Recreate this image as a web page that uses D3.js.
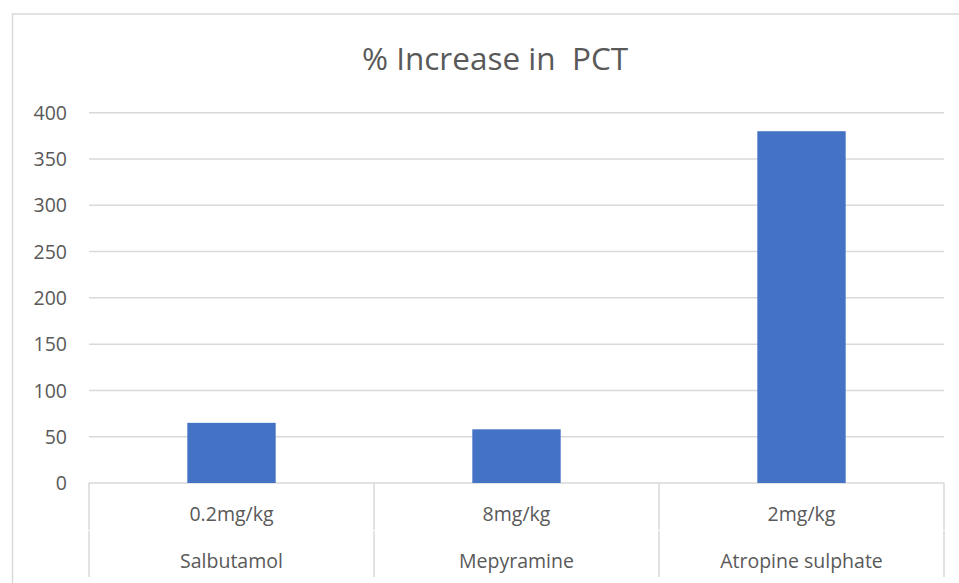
<!DOCTYPE html>
<html>
<head>
<meta charset="utf-8">
<script src="https://cdn.jsdelivr.net/npm/d3@7"></script>
<style>
  html, body { margin: 0; padding: 0; background: #fff; }
  svg { display: block; }
  text { font-family: "Open Sans", "Noto Sans", sans-serif; fill: #595959; }
</style>
</head>
<body>
<svg id="chart" width="959" height="583"></svg>
<script>
// ---- data ----
const drugs = ["Salbutamol", "Mepyramine", "Atropine sulphate"];
const doses = ["0.2mg/kg", "8mg/kg", "2mg/kg"];
const values = [65, 58, 380];
const yTicks = [0, 50, 100, 150, 200, 250, 300, 350, 400];
const title = "% Increase in\u00a0 PCT";

// ---- layout ----
const W = 959, H = 583;
const plot = { left: 89, right: 944, top: 112.7, bottom: 483 };

const svg = d3.select("#chart");

// chart frame (extends past right/bottom edges as in the reference)
svg.append("rect")
  .attr("x", 12.5).attr("y", 14)
  .attr("width", 980).attr("height", 600)
  .attr("fill", "#fff")
  .attr("stroke", "#d9d9d9").attr("stroke-width", 1.5);

const x = d3.scaleBand()
  .domain(drugs)
  .range([plot.left, plot.right])
  .paddingInner(0.69).paddingOuter(0.345);

const xCat = d3.scaleBand().domain(drugs).range([plot.left, plot.right]);

const y = d3.scaleLinear().domain([0, 400]).range([plot.bottom, plot.top]);

// gridlines
svg.append("g")
  .selectAll("line")
  .data(yTicks)
  .join("line")
  .attr("x1", plot.left).attr("x2", plot.right)
  .attr("y1", d => y(d)).attr("y2", d => y(d))
  .attr("stroke", "#d9d9d9").attr("stroke-width", 1.5);

// y axis labels
const yAxis = d3.axisLeft(y).tickValues(yTicks).tickSize(0).tickPadding(0);
const ya = svg.append("g")
  .attr("transform", `translate(67,0)`)
  .call(yAxis);
ya.select(".domain").remove();
ya.selectAll("text")
  .style("font-family", '"Open Sans", sans-serif')
  .attr("font-size", 19.5)
  .attr("fill", "#595959")
  .attr("dy", "0.34em");

// bars
svg.append("g")
  .selectAll("rect")
  .data(values)
  .join("rect")
  .attr("x", (d, i) => x(drugs[i]))
  .attr("width", x.bandwidth())
  .attr("y", d => y(d))
  .attr("height", d => y(0) - y(d))
  .attr("fill", "#4472C4");

// multi-level category axis
const ax = svg.append("g");
const bounds = drugs.map(d => xCat(d)).concat([plot.right]);
ax.selectAll("line.top")
  .data(bounds)
  .join("line")
  .attr("x1", d => d).attr("x2", d => d)
  .attr("y1", plot.bottom).attr("y2", 530)
  .attr("stroke", "#d9d9d9").attr("stroke-width", 1.5);
ax.selectAll("line.bot")
  .data(bounds)
  .join("line")
  .attr("x1", d => d).attr("x2", d => d)
  .attr("y1", 531).attr("y2", 577)
  .attr("stroke", "#d9d9d9").attr("stroke-width", 1.5);

ax.selectAll("text.dose")
  .data(doses)
  .join("text")
  .attr("class", "dose")
  .attr("x", (d, i) => xCat(drugs[i]) + xCat.bandwidth() / 2)
  .attr("y", 521)
  .attr("text-anchor", "middle")
  .attr("font-size", 19.5)
  .text(d => d);

ax.selectAll("text.drug")
  .data(drugs)
  .join("text")
  .attr("class", "drug")
  .attr("x", d => xCat(d) + xCat.bandwidth() / 2)
  .attr("y", 568)
  .attr("text-anchor", "middle")
  .attr("font-size", 19.5)
  .text(d => d);

// title
svg.append("text")
  .attr("x", 495).attr("y", 70)
  .attr("text-anchor", "middle")
  .attr("font-size", 31.5)
  .text(title);
</script>
</body>
</html>
